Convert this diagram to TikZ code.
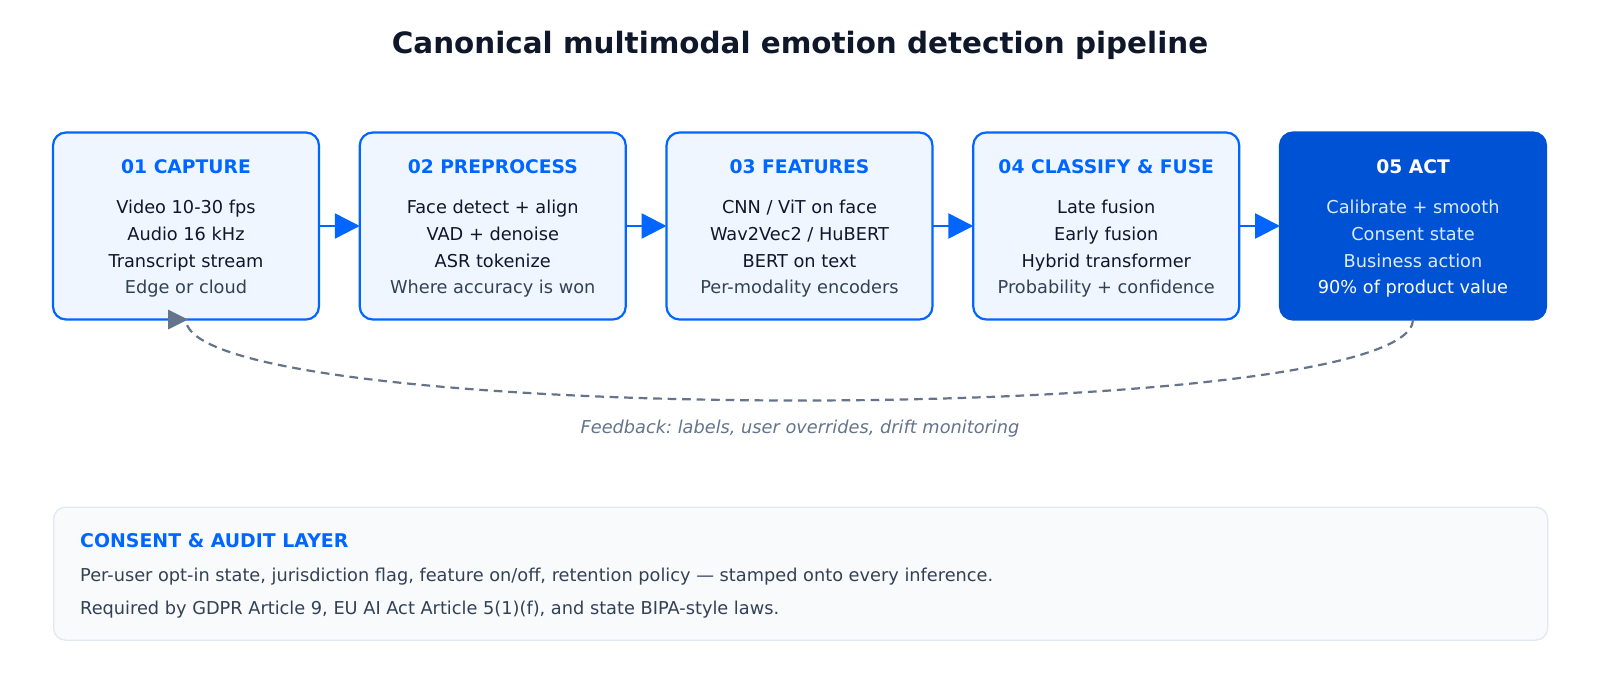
\documentclass[tikz,border=0pt]{standalone}
\usepackage{fontspec}
\setmainfont{DejaVu Sans}
\usetikzlibrary{arrows.meta}
\definecolor{ink}{HTML}{0F172A}
\definecolor{slate}{HTML}{334155}
\definecolor{brandblue}{HTML}{0066FF}
\definecolor{paleblue}{HTML}{EFF6FF}
\definecolor{deepblue}{HTML}{0052D4}
\definecolor{iceblue}{HTML}{DBEAFE}
\definecolor{mutedgray}{HTML}{64748B}
\definecolor{panelfill}{HTML}{F8FAFC}
\definecolor{panelline}{HTML}{E2E8F0}
\tikzset{
  stagebox/.style={draw=brandblue, fill=paleblue, line width=2.2pt, rounded corners=13pt,
    minimum width=266pt, minimum height=187pt, inner sep=0pt, outer sep=0pt},
  actbox/.style={stagebox, draw=deepblue, fill=deepblue},
  stagetitle/.style={anchor=base, inner sep=0pt, font=\bfseries\fontsize{18.7}{20}\selectfont, text=brandblue},
  stageline/.style={anchor=base, inner sep=0pt, font=\fontsize{17.75}{20}\selectfont, text=ink},
  stagenote/.style={stageline, text=slate},
  flow/.style={draw=brandblue, line width=2.6pt, -{Triangle[length=25pt,width=25pt]}},
  feedback/.style={draw=mutedgray, line width=2.2pt, dash pattern=on 8.7pt off 5.8pt},
  paneltext/.style={anchor=base west, inner sep=0pt, font=\fontsize{17.75}{20}\selectfont, text=slate},
}
\newcommand\stage[7]{%
  \node[stagebox] (#1) at (#2,226) {};
  \node[stagetitle] (#1-t) at (#2,173) {#3};
  \node[stageline] (#1-a) at (#2,213.8) {#4};
  \node[stageline] (#1-b) at (#2,240.4) {#5};
  \node[stageline] (#1-c) at (#2,267) {#6};
  \node[stagenote] (#1-d) at (#2,293.6) {#7};
}
\frenchspacing
\begin{document}
\frenchspacing
\begin{tikzpicture}[x=1pt,y=-1pt]
\fill[white] (0,0) rectangle (1600,693);
\useasboundingbox (0,0) rectangle (1600,693);

\node[anchor=base, inner sep=0pt, font=\bfseries\fontsize{29.4}{32}\selectfont, text=ink] (title) at (800,53)
  {Canonical multimodal emotion detection pipeline};

\stage{cap}{186}{01 CAPTURE}{Video 10-30 fps}{Audio 16 kHz}{Transcript stream}{Edge or cloud}
\stage{pre}{492.75}{02 PREPROCESS}{Face detect + align}{VAD + denoise}{ASR tokenize}{Where accuracy is won}
\stage{fea}{799.5}{03 FEATURES}{CNN / ViT on face}{Wav2Vec2 / HuBERT}{BERT on text}{Per-modality encoders}
\stage{cls}{1106.25}{04 CLASSIFY \& FUSE}{Late fusion}{Early fusion}{Hybrid transformer}{Probability + confidence}

\node[actbox] (act) at (1413,226) {};
\node[stagetitle, text=white] (act-t) at (1413,173) {05 ACT};
\node[stageline, text=iceblue] (act-a) at (1413,213.8) {Calibrate + smooth};
\node[stageline, text=iceblue] (act-b) at (1413,240.4) {Consent state};
\node[stageline, text=iceblue] (act-c) at (1413,267) {Business action};
\node[stageline, text=white] (act-d) at (1413,293.6) {90\% of product value};

\draw[flow] (cap.east) -- (pre.west);
\draw[flow] (pre.east) -- (fea.west);
\draw[flow] (fea.east) -- (cls.west);
\draw[flow] (cls.east) -- (act.west);

\draw[feedback] (act.south) .. controls +(0,108) and +(0,108) .. (cap.south);
\fill[mutedgray] ([xshift=2pt]cap.south) -- ++(-20,-10) -- ++(0,20) -- cycle;

\node[anchor=base, inner sep=0pt, font=\itshape\fontsize{17.75}{20}\selectfont, text=mutedgray] (fb) at (800,433.5)
  {Feedback: labels, user overrides, drift monitoring};

\node[draw=panelline, fill=panelfill, line width=1.3pt, rounded corners=12pt, minimum width=1494pt,
  minimum height=133pt, inner sep=0pt, anchor=north west] (panel) at (53,506.5) {};
\node[paneltext, font=\bfseries\fontsize{18.9}{20}\selectfont, text=brandblue] (panel-t) at (80,547.5) {CONSENT \& AUDIT LAYER};
\node[paneltext] (panel-a) at (80,581.3) {Per-user opt-in state, jurisdiction flag, feature on/off, retention policy — stamped onto every inference.};
\node[paneltext] (panel-b) at (80,614.5) {Required by GDPR Article 9, EU AI Act Article 5(1)(f), and state BIPA-style laws.};
\end{tikzpicture}
\end{document}
